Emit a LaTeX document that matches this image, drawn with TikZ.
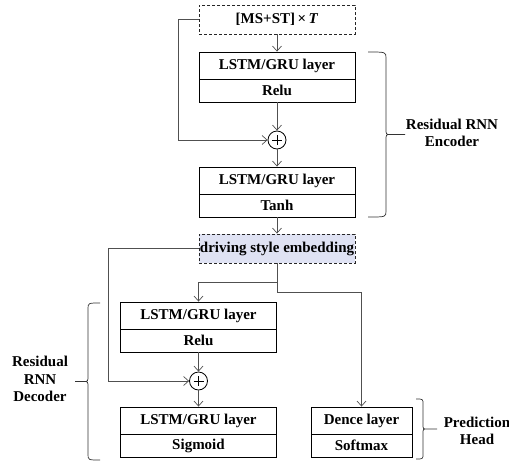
\documentclass[tikz,border=0pt]{standalone}
\usepackage{fontspec}
\setmainfont{Liberation Serif}
\usetikzlibrary{arrows.meta,calc}
\definecolor{embfill}{HTML}{DFE2F3}
\definecolor{wire}{HTML}{505050}
% vertical curly brace: #1 x of the ends, #2 x of the spine, #3 top y, #4 bottom y,
% #5 x where the tip stroke ends, #6 size of the end/cusp bends
\newcommand{\groupbrace}[6]{%
  \pgfmathsetmacro{\bmid}{(#3+#4)/2}%
  \pgfmathsetmacro{\bdir}{(#5-#2)>0 ? 1 : -1}%
  \draw[bracestroke]
    (#1,#3) .. controls (#2,#3) .. (#2,#3+#6)
    -- (#2,\bmid-#6) .. controls (#2,\bmid) .. (#2+\bdir*#6*0.8,\bmid)
    -- (#5,\bmid)
    (#2+\bdir*#6*0.8,\bmid) .. controls (#2,\bmid) .. (#2,\bmid+#6)
    -- (#2,#4-#6) .. controls (#2,#4) .. (#1,#4);}
\begin{document}
\begin{tikzpicture}[x=1pt,y=-1pt,
  txt/.style={font=\fontsize{15}{17.5}\selectfont\bfseries},
  cellA/.style={txt,draw,line width=0.9pt,minimum width=156pt,minimum height=27pt,inner sep=0pt},
  cellB/.style={txt,draw,line width=0.9pt,minimum width=156pt,minimum height=23pt,inner sep=0pt},
  dashbox/.style={txt,draw=black!85,line width=0.9pt,dash pattern=on 3pt off 2pt,minimum width=156pt,minimum height=29pt,inner sep=0pt},
  adder/.style={circle,draw,line width=0.8pt,minimum size=18pt,inner sep=0pt},
  conn/.style={draw=wire,line width=0.7pt},
  arr/.style={conn,-{Straight Barb[length=5pt,width=9pt,line width=0.7pt]}},
  bracestroke/.style={draw=black!80,line width=0.7pt},
  lbl/.style={txt,align=center}]
\useasboundingbox (0,0) rectangle (509,464);

% encoder
\node[dashbox] (inp) at (277,19.5) {[MS+ST]\,×\,\textit{T}};
\node[cellA] (enc1a) at (277,65.5) {LSTM/GRU layer};
\node[cellB] (enc1b) at (277,90.5) {Relu};
\node[adder] (add1) at (277,140) {};
\node[cellA] (enc2a) at (277,180.5) {LSTM/GRU layer};
\node[cellB] (enc2b) at (277,205.5) {Tanh};
\node[dashbox,fill=embfill] (emb) at (277,248.5) {driving style embedding};

% decoder
\node[cellA] (dec1a) at (198.5,315.5) {LSTM/GRU layer};
\node[cellB] (dec1b) at (198.5,340.5) {Relu};
\node[adder] (add2) at (198.5,381) {};
\node[cellA] (dec2a) at (198.5,420.5) {LSTM/GRU layer};
\node[cellB] (dec2b) at (198.5,445.5) {Sigmoid};

% prediction head
\node[cellA,minimum width=101pt] (preda) at (361.5,420.5) {Dence layer};
\node[cellB,minimum width=101pt] (predb) at (361.5,445.5) {Softmax};

% plus signs inside the adders
\foreach \a in {add1,add2}{
  \draw[line width=0.6pt] ($(\a)+(-5,0)$) -- ($(\a)+(5,0)$);
  \draw[line width=0.6pt] ($(\a)+(0,-5)$) -- ($(\a)+(0,5)$);
}

% connectors
\draw[arr] (inp.south) -- (enc1a.north);
\draw[arr] (enc1b.south) -- (add1.north);
\draw[arr] (add1.south) -- (enc2a.north);
\draw[arr] (enc2b.south) -- (emb.north);
\draw[arr] (inp.west) -- ++(-20,0) |- (add1.west);
\draw[arr] (emb.west) -- ++(-90,0) |- (add2.west);
\draw[arr] (emb.south) -- ++(0,19) -| (dec1a.north);
\draw[arr] (emb.south) -- ++(0,29) -| (preda.north);
\draw[arr] (dec1b.south) -- (add2.north);
\draw[arr] (add2.south) -- (dec2a.north);

% braces and group labels
\groupbrace{368}{386}{52}{217}{405}{6}
\node[lbl] (enclbl) at (452,133) {Residual RNN\\Encoder};

\groupbrace{100}{88}{303}{460}{75}{6}
\node[lbl] (declbl) at (40,379) {Residual\\RNN\\Decoder};

\groupbrace{416}{423}{399}{459}{437}{5}
\node[lbl] (prdlbl) at (477,431) {Prediction\\Head};
\end{tikzpicture}
\end{document}
